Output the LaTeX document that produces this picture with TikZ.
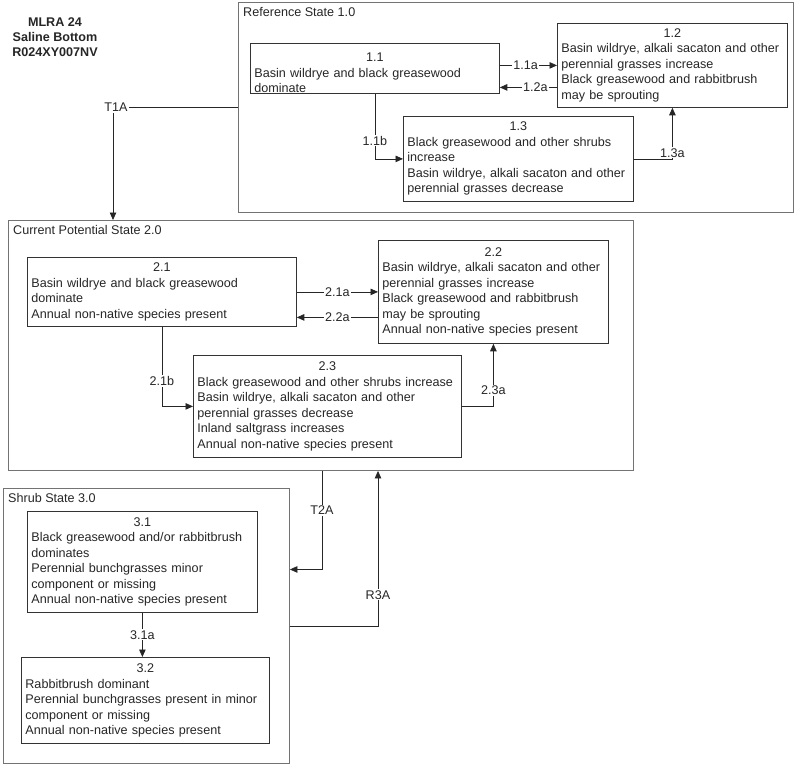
\documentclass[tikz,border=0pt]{standalone}
\usepackage{fontspec}
\setmainfont{Liberation Sans}
\usetikzlibrary{arrows.meta}
\begin{document}
\begin{tikzpicture}[x=1pt,y=-1pt,
  every node/.style={font=\fontsize{12.6}{15.5}\selectfont, text=black!85},
  statebox/.style={draw=black!55, line width=0.9pt, inner sep=0pt, anchor=north west},
  statelabel/.style={anchor=north west, inner sep=2pt},
  phase/.style={draw=black!80, line width=0.8pt, anchor=north west, align=left, inner xsep=4pt, inner ysep=0pt},
  arr/.style={draw=black!85, line width=0.8pt, -{Triangle[length=7.5pt,width=6.5pt]}},
  lab/.style={fill=white, inner sep=1pt},
  ]
\useasboundingbox (0,0) rectangle (800,764);

% header
\node[font=\fontsize{12.6}{15}\selectfont\bfseries, align=center] (hdr) at (55,37) {MLRA 24\\Saline Bottom\\R024XY007NV};

% state boxes
\node[statebox, minimum width=555pt, minimum height=210pt] (o1) at (238,2) {};
\node[statebox, minimum width=625pt, minimum height=250pt] (o2) at (8,220) {};
\node[statebox, minimum width=286pt, minimum height=275pt] (o3) at (3,488) {};
\node[statelabel] (l1) at ([xshift=3pt,yshift=-3pt]o1.north west) {Reference State 1.0};
\node[statelabel] (l2) at ([xshift=3pt,yshift=-3pt]o2.north west) {Current Potential State 2.0};
\node[statelabel] (l3) at ([xshift=3pt,yshift=-3pt]o3.north west) {Shrub State 3.0};

% phases
\node[phase, text width=241pt, minimum height=50pt] (n11) at (250,43)
  {\makebox[\hsize]{\rule{0pt}{18pt}1.1}\\Basin wildrye and black greasewood\\dominate};
\node[phase, text width=222pt, minimum height=84pt] (n12) at (557,23)
  {\makebox[\hsize]{1.2}\\Basin wildrye, alkali sacaton and other\\perennial grasses increase\\Black greasewood and rabbitbrush\\may be sprouting};
\node[phase, text width=222pt, minimum height=85pt] (n13) at (403,116)
  {\makebox[\hsize]{1.3}\\Black greasewood and other shrubs\\increase\\Basin wildrye, alkali sacaton and other\\perennial grasses decrease};

\node[phase, text width=261pt, minimum height=69pt] (n21) at (27,257)
  {\makebox[\hsize]{2.1}\\Basin wildrye and black greasewood\\dominate\\Annual non-native species present};
\node[phase, text width=222pt, minimum height=103pt] (n22) at (378,240)
  {\makebox[\hsize]{2.2}\\Basin wildrye, alkali sacaton and other\\perennial grasses increase\\Black greasewood and rabbitbrush\\may be sprouting\\Annual non-native species present};
\node[phase, text width=260pt, minimum height=102pt] (n23) at (193,355)
  {\makebox[\hsize]{2.3}\\Black greasewood and other shrubs increase\\Basin wildrye, alkali sacaton and other\\perennial grasses decrease\\Inland saltgrass increases\\Annual non-native species present};

\node[phase, text width=222pt, minimum height=101pt] (n31) at (27,511)
  {\makebox[\hsize]{3.1}\\Black greasewood and/or rabbitbrush\\dominates\\Perennial bunchgrasses minor\\component or missing\\Annual non-native species present};
\node[phase, text width=240pt, minimum height=86pt] (n32) at (21,657)
  {\makebox[\hsize]{3.2}\\Rabbitbrush dominant\\Perennial bunchgrasses present in minor\\component or missing\\Annual non-native species present};

% coordinates
\coordinate (c12a) at ([yshift=-22pt]n12.west);
\coordinate (c22a) at ([yshift=-25.5pt]n22.west);
\coordinate (t1e) at ([xshift=105pt]o2.north west);
\coordinate (t2s) at ([xshift=314pt]o2.south west);
\coordinate (t2e) at ([yshift=56.5pt]o3.east);
\coordinate (r3e) at ([xshift=370pt]o2.south west);

% connectors state 1
\draw[arr] (n11.east |- n12.west) -- node[lab,pos=0.45]{1.1a} (n12.west);
\draw[arr] (c12a) -- node[lab,pos=0.38]{1.2a} (n11.east |- c12a);
\draw[arr] (n11.south) |- node[lab,pos=0.36]{1.1b} (n13.west);
\draw[arr] (n13.east) -| node[lab,pos=0.56]{1.3a} (n12.south);

% T1A
\draw[arr] (o1.west) -| node[lab,pos=0.5,xshift=3pt]{T1A} (t1e);

% connectors state 2
\draw[arr] (n21.east) -- node[lab]{2.1a} (n21.east -| n22.west);
\draw[arr] (c22a) -- node[lab]{2.2a} (n21.east |- c22a);
\draw[arr] (n21.south) |- node[lab,pos=0.34]{2.1b} (n23.west);
\draw[arr] (n23.east) -| node[lab,pos=0.63]{2.3a} (n22.south);

% T2A and R3A
\draw[arr] (t2s) |- node[lab,pos=0.2]{T2A} (t2e);
\draw[arr] (o3.east) -| node[lab,pos=0.6]{R3A} (r3e);

% state 3
\draw[arr] (n31.south) -- node[lab]{3.1a} (n31.south |- n32.north);
\end{tikzpicture}
\end{document}
